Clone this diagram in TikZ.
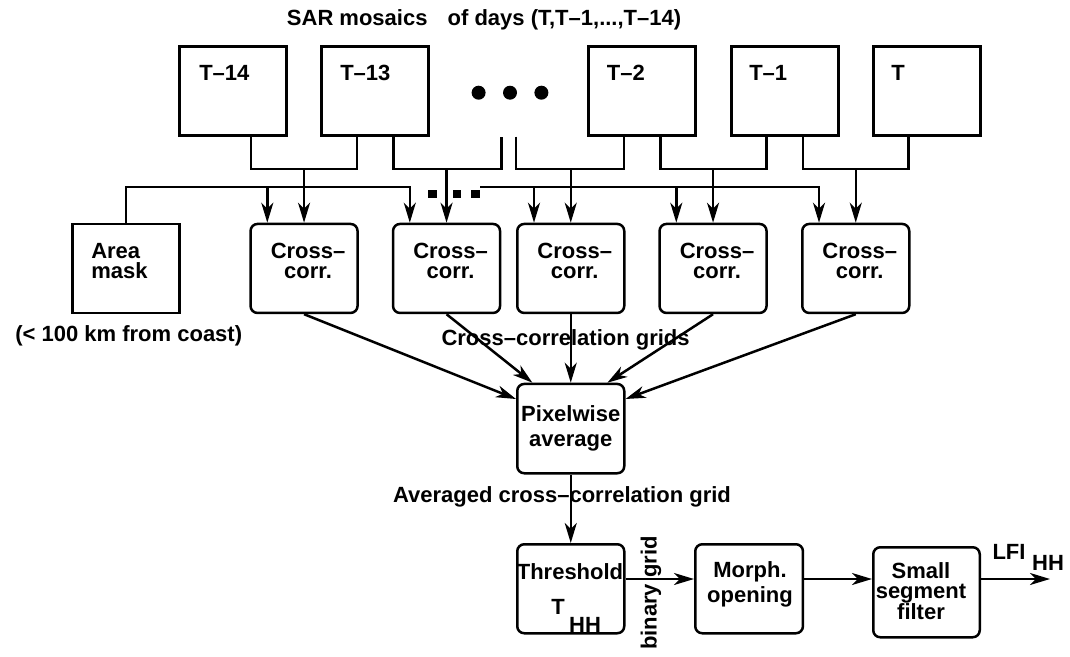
\documentclass[tikz,border=0pt]{standalone}
\usepackage{fontspec}
\setmainfont{Liberation Sans}
\usetikzlibrary{arrows.meta,calc}
\begin{document}
\begin{tikzpicture}[x=1pt,y=-1pt,
  line width=2.5pt,
  font=\fontsize{22}{25}\selectfont\bfseries,
  sq/.style={draw, minimum width=107pt, minimum height=89pt, inner sep=0pt, anchor=north west},
  rb/.style={sq, rounded corners=7pt},
  arr/.style={-{Stealth[length=20pt,width=12pt,inset=6pt]}},
  txt/.style={inner sep=0pt, align=center},
  tight/.style={font=\fontsize{22}{20}\selectfont\bfseries},
]
\useasboundingbox (0,0) rectangle (1070,656);

% top boxes
\node[sq] (t14) at (178,45) {};
\node[sq] (t13) at (320.4,45) {};
\node[sq] (t2) at (587.3,45) {};
\node[sq] (t1) at (730,45) {};
\node[sq] (t0) at (872,45) {};
\node[txt,anchor=west] (l14) at ($(t14.north west)+(20,28)$) {T–14};
\node[txt,anchor=west] (l13) at ($(t13.north west)+(18.6,28)$) {T–13};
\node[txt,anchor=west] (l2) at ($(t2.north west)+(18.3,28)$) {T–2};
\node[txt,anchor=west] (l1) at ($(t1.north west)+(18,28)$) {T–1};
\node[txt,anchor=west] (l0) at ($(t0.north west)+(18,28)$) {T};

\node[txt,anchor=west] (title) at (285.7,20) {SAR mosaics\hspace{14pt} of days (T,T–1,...,T–14)};

% ellipsis dots
\fill (478.6,92.7) circle (7);
\fill (510,92.7) circle (7);
\fill (541.4,92.7) circle (7);

% second row
\node[sq] (am) at (71,222.7) {};
\node[rb] (cc1) at (249.3,222.7) {};
\node[rb] (cc2) at (391.8,222.7) {};
\node[rb] (cc3) at (516,222.7) {};
\node[rb] (cc4) at (658.3,222.7) {};
\node[rb] (cc5) at (801,222.7) {};
\node[txt,tight,align=left,anchor=west] (amt) at ($(am.north west)+(19,38)$) {Area\\mask};
\foreach \i in {1,...,5}{
  \node[txt,tight] (cct\i) at ($(cc\i.north)+(4,38)$) {Cross–\\corr.};
}
\node[txt] (amnote) at ($(am.south)+(3,22)$) {(< 100 km from coast)};

% day pair connectors
\coordinate (jrow) at (0,169);
\coordinate (a1) at ($(t14.south west)!2/3!(t14.south east)$);
\coordinate (b1) at ($(t13.south west)!1/3!(t13.south east)$);
\coordinate (a2) at ($(t13.south west)!2/3!(t13.south east)$);
\coordinate (b2) at (cc2.east |- t13.south);
\coordinate (a3) at (cc3.west |- t2.south);
\coordinate (b3) at ($(t2.south west)!1/3!(t2.south east)$);
\coordinate (a4) at ($(t2.south west)!2/3!(t2.south east)$);
\coordinate (b4) at ($(t1.south west)!1/3!(t1.south east)$);
\coordinate (a5) at ($(t1.south west)!2/3!(t1.south east)$);
\coordinate (b5) at ($(t0.south west)!1/3!(t0.south east)$);
\foreach \i in {1,...,5}{
  \draw (a\i) -- (a\i |- jrow) -- (b\i |- jrow) -- (b\i);
  \draw[arr] (cc\i.north |- jrow) -- (cc\i.north);
}

% area mask line
\coordinate (mline) at (0,187);
\foreach \i in {1,...,5}{
  \coordinate (m\i) at ($(cc\i.north west)+(18,0)$);
}
\coordinate (mgap) at (480,187);
\draw[arr] (am.north) -- (am.north |- mline) -| (m2);
\draw[arr] (m1 |- mline) -- (m1);
\draw[arr] (mgap) -| (m5);
\draw[arr] (m3 |- mline) -- (m3);
\draw[arr] (m4 |- mline) -- (m4);
\fill (428,190) rectangle ++(8.5,8);
\fill (452.5,190) rectangle ++(8.5,8);
\fill (471,190) rectangle ++(8.5,8);

% pixelwise average
\node[rb, minimum height=89.3pt] (pix) at (516,382.7) {};
\node[txt] (pixt) at (pix.center) {Pixelwise\\average};
\draw[arr] (cc1.south) -- ($(pix.north west)+(0,16.3)$);
\draw[arr] (cc2.south) -- ($(pix.north west)+(16.4,0)$);
\draw[arr] (cc3.south) -- (pix.north);
\draw[arr] (cc4.south) -- ($(pix.north west)+(91.4,0)$);
\draw[arr] (cc5.south) -- ($(pix.north east)+(0,16.3)$);
\node[txt] (ccg) at (565.6,340) {Cross–correlation grids};
\node[txt] (acg) at (562,497) {Averaged cross–correlation grid};

% bottom row
\node[rb] (thr) at (516,543) {};
\node[rb, minimum width=107.7pt] (mor) at (694,543) {};
\node[rb, minimum width=106.5pt, minimum height=90pt] (sm) at (872,546) {};
\node[txt] (thrt) at (570,572) {Threshold};
\node[txt] (thrT) at (558,607) {T};
\node[txt] (thrH) at (585,625) {HH};
\node[txt] (mort) at (750,584.5) {Morph.\\opening};
\node[txt,tight] (smt) at (921,591) {Small\\segment\\filter};
\node[txt,rotate=90] (bin) at (651,593) {binary grid};
\node[txt] (lfi) at (1009,552) {LFI};
\node[txt] (lfih) at (1048,563) {HH};

\coordinate (row) at (0,579);
\coordinate (out) at (1050,579);
\draw[arr] (pix.south) -- (thr.north);
\draw[arr] (thr.east |- row) -- (mor.west |- row);
\draw[arr] (mor.east |- row) -- (sm.west |- row);
\draw[arr] (sm.east |- row) -- (out);
\end{tikzpicture}
\end{document}
